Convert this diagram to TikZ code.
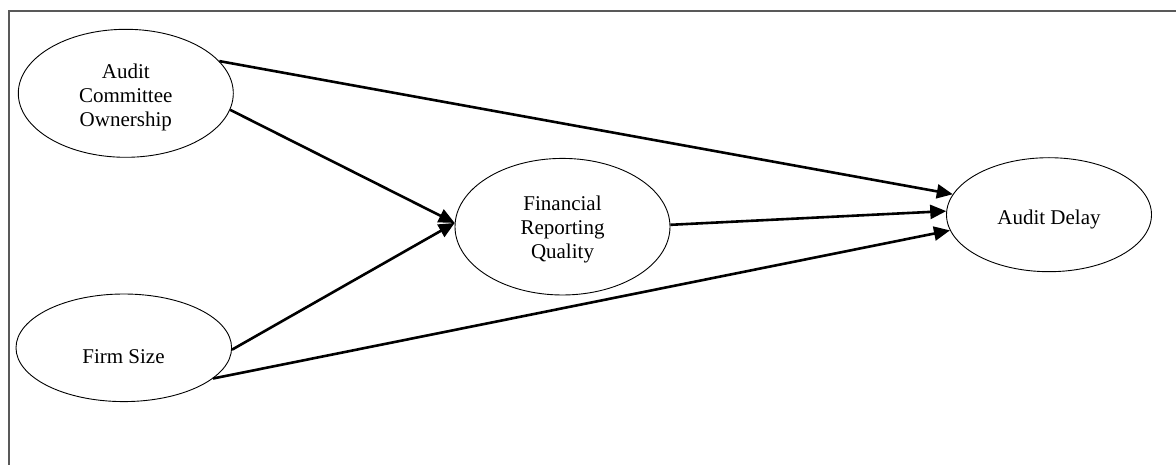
\documentclass[tikz,border=0pt]{standalone}
\usepackage{fontspec}
\setmainfont{Liberation Serif}
\usetikzlibrary{shapes.geometric,arrows.meta}
\tikzset{
  var/.style={ellipse, draw=black, line width=0.9pt, inner sep=0pt, fill=white},
  lbl/.style={align=center, inner sep=0pt, font=\fontsize{21}{24}\selectfont},
  link/.style={line width=2.6pt, -{Triangle[length=16pt,width=14pt]}},
  frame/.style={draw=black!65, line width=2pt}
}
\begin{document}
\begin{tikzpicture}[x=1pt,y=-1pt]
\useasboundingbox (0,0) rectangle (1176,465);
\draw[frame] (9,466) -- (9,11) -- (1177,11);
% ellipses
\node[var, minimum width=215pt, minimum height=128pt] (aco) at (125.8,93.3) {};
\node[var, minimum width=215.6pt, minimum height=107.6pt] (fs) at (123.8,347.8) {};
\node[var, minimum width=215pt, minimum height=136.6pt] (frq) at (562.5,226.7) {};
\node[var, minimum width=205pt, minimum height=114pt] (ad) at (1049,214.7) {};
% labels
\node[lbl] (acot) at (125.8,97) {Audit\\Committee\\Ownership};
\node[lbl] (fst) at (123.5,357) {Firm Size};
\node[lbl] (frqt) at (562.5,229) {Financial\\Reporting\\Quality};
\node[lbl] (adt) at (1049,219) {Audit Delay};
% connectors
\draw[link] (aco.19) -- (ad.168.7);
\draw[link] (aco.-9.4) -- (frq.178);
\draw[link] (fs.-1) -- (frq.178.5);
\draw[link] (frq.1.4) -- (ad.178.7);
\draw[link] (fs.-19.4) -- (ad.189.3);
\end{tikzpicture}
\end{document}
